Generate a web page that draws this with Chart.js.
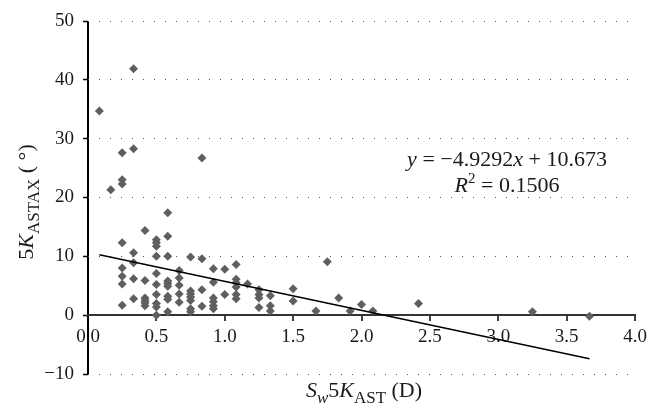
<!DOCTYPE html>
<html><head><meta charset="utf-8">
<script src="https://cdn.jsdelivr.net/npm/chart.js@4"></script>
<style>html,body{margin:0;padding:0;background:#fff}</style>
</head><body>
<canvas id="c" width="662" height="418" style="width:662px;height:418px;display:block"></canvas>
<script>
// ---- data ----
const xVals = [
  0.083,
  0.167,
  0.25,0.25,0.25,0.25,0.25,0.25,0.25,0.25,
  0.333,0.333,0.333,0.333,0.333,0.333,
  0.417,0.417,0.417,0.417,0.417,0.417,
  0.5,0.5,0.5,0.5,0.5,0.5,0.5,0.5,0.5,0.5,
  0.583,0.583,0.583,0.583,0.583,0.583,0.583,0.583,0.583,
  0.667,0.667,0.667,0.667,0.667,
  0.75,0.75,0.75,0.75,0.75,0.75,0.75,
  0.833,0.833,0.833,0.833,
  0.917,0.917,0.917,0.917,0.917,0.917,
  1.0,1.0,
  1.083,1.083,1.083,1.083,1.083,1.083,
  1.167,
  1.25,1.25,1.25,1.25,
  1.333,1.333,1.333,
  1.5,1.5,
  1.667,1.75,1.833,1.917,2.0,2.083,2.417,3.25,3.667
];
const yVals = [
  34.7,
  21.3,
  27.6,23.0,22.3,12.3,8.0,6.6,5.3,1.7,
  41.9,28.3,10.6,8.9,6.2,2.8,
  14.4,5.9,2.9,2.5,2.1,1.6,
  12.8,12.3,11.7,10.0,7.1,5.2,3.5,2.0,1.4,0.0,
  17.4,13.4,10.0,5.8,5.4,4.9,3.2,2.7,0.6,
  7.6,6.3,5.1,3.6,2.2,
  9.9,4.1,3.6,3.1,2.5,1.1,0.6,
  26.7,9.6,4.3,1.5,
  7.9,5.6,2.9,2.3,1.6,1.1,
  7.8,3.5,
  8.6,6.1,5.5,4.8,3.5,2.8,
  5.3,
  4.3,3.5,2.9,1.3,
  3.3,1.6,0.7,
  4.5,2.4,
  0.7,9.1,2.9,0.7,1.8,0.7,2.0,0.6,-0.2
];
const trendSlope = -4.9292;
const trendIntercept = 10.673;
const trendX = [0.083, 3.667];
const xTicks = [0, 0.5, 1, 1.5, 2, 2.5, 3, 3.5, 4];
const yTicks = [-10, 0, 10, 20, 30, 40, 50];

const FONT = '"Liberation Serif", "DejaVu Serif", serif';

const scatterData = xVals.map((x, i) => ({x, y: yVals[i]}));
const trendData = trendX.map(x => ({x, y: trendSlope * x + trendIntercept}));

function drawRich(ctx, parts, x, y, size, subRatio) {
  const r = subRatio || 0.7;
  const fontFor = p => (p.it ? 'italic ' : '') + ((p.sub || p.sup) ? Math.round(size * r) : size) + 'px ' + FONT;
  let total = 0;
  parts.forEach(p => { ctx.font = fontFor(p); p.w = ctx.measureText(p.t).width; total += p.w; });
  let cx = x - total / 2;
  parts.forEach(p => {
    ctx.font = fontFor(p);
    const dy = p.sub ? size * 0.26 : (p.sup ? -size * 0.42 : 0);
    ctx.fillText(p.t, cx, y + dy);
    cx += p.w;
  });
}

const richText = {
  id: 'richText',
  afterDraw(chart) {
    const ctx = chart.ctx;
    ctx.save();
    ctx.fillStyle = '#1a1a1a';
    ctx.textBaseline = 'alphabetic';
    ctx.textAlign = 'left';
    // x title
    drawRich(ctx, [
      {t: 'S', it: true}, {t: 'w', it: true, sub: true}, {t: '5'}, {t: 'K', it: true},
      {t: 'AST', sub: true}, {t: ' (D)'}
    ], 364, 397, 22, 0.76);
    // y title
    ctx.save();
    ctx.translate(33, 202);
    ctx.rotate(-Math.PI / 2);
    drawRich(ctx, [
      {t: '5'}, {t: 'K', it: true}, {t: 'ASTAX', sub: true}, {t: ' ( °)'}
    ], 0, 0, 22, 0.76);
    ctx.restore();
    // equation
    drawRich(ctx, [
      {t: 'y', it: true}, {t: ' = −4.9292'}, {t: 'x', it: true}, {t: ' + 10.673'}
    ], 507, 166, 22);
    drawRich(ctx, [
      {t: 'R', it: true}, {t: '2', sup: true}, {t: ' = 0.1506'}
    ], 507, 192, 22);
    ctx.restore();
  }
};

new Chart(document.getElementById('c'), {
  data: {
    datasets: [
      {
        type: 'scatter',
        data: scatterData,
        pointStyle: 'rectRot',
        pointRadius: 4.5,
        pointHoverRadius: 4.5,
        pointBackgroundColor: '#5f5f5f',
        pointBorderWidth: 0,
        order: 1
      },
      {
        type: 'line',
        data: trendData,
        borderColor: '#000',
        borderWidth: 1.5,
        pointRadius: 0,
        fill: false,
        order: 0
      }
    ]
  },
  options: {
    responsive: false,
    animation: false,
    devicePixelRatio: 1,
    layout: {padding: {left: 0, top: 21, right: 27, bottom: 44}},
    plugins: {legend: {display: false}, tooltip: {enabled: false}},
    scales: {
      x: {
        type: 'linear',
        position: {y: 0},
        min: 0, max: 4,
        afterBuildTicks: s => { s.ticks = xTicks.map(v => ({value: v})); },
        ticks: {
          callback: v => Number(v).toFixed(1),
          color: '#1a1a1a',
          font: {family: FONT, size: 19},
          padding: 5,
          maxRotation: 0,
          autoSkip: false
        },
        grid: {
          color: c => (c.tick && c.tick.value === 0) ? '#000' : 'rgba(0,0,0,0)',
          lineWidth: 2,
          tickColor: '#000',
          tickWidth: 1.5,
          tickLength: 5,
          drawTicks: true
        },
        border: {display: true, color: '#333', width: 2}
      },
      y: {
        type: 'linear',
        min: -10, max: 50,
        afterBuildTicks: s => { s.ticks = yTicks.map(v => ({value: v})); },
        afterFit: s => { s.width = 88; },
        ticks: {
          callback: v => String(v).replace('-', '−'),
          color: '#1a1a1a',
          font: {family: FONT, size: 19},
          padding: 9
        },
        grid: {
          color: c => (c.tick && c.tick.value === 0) ? 'rgba(0,0,0,0)' : '#555',
          lineWidth: 1,
          tickColor: '#000',
          tickWidth: 1.5,
          tickLength: 5
        },
        border: {display: false, dash: [1, 10]}
      }
    }
  },
  plugins: [richText]
});
</script>
</body></html>
